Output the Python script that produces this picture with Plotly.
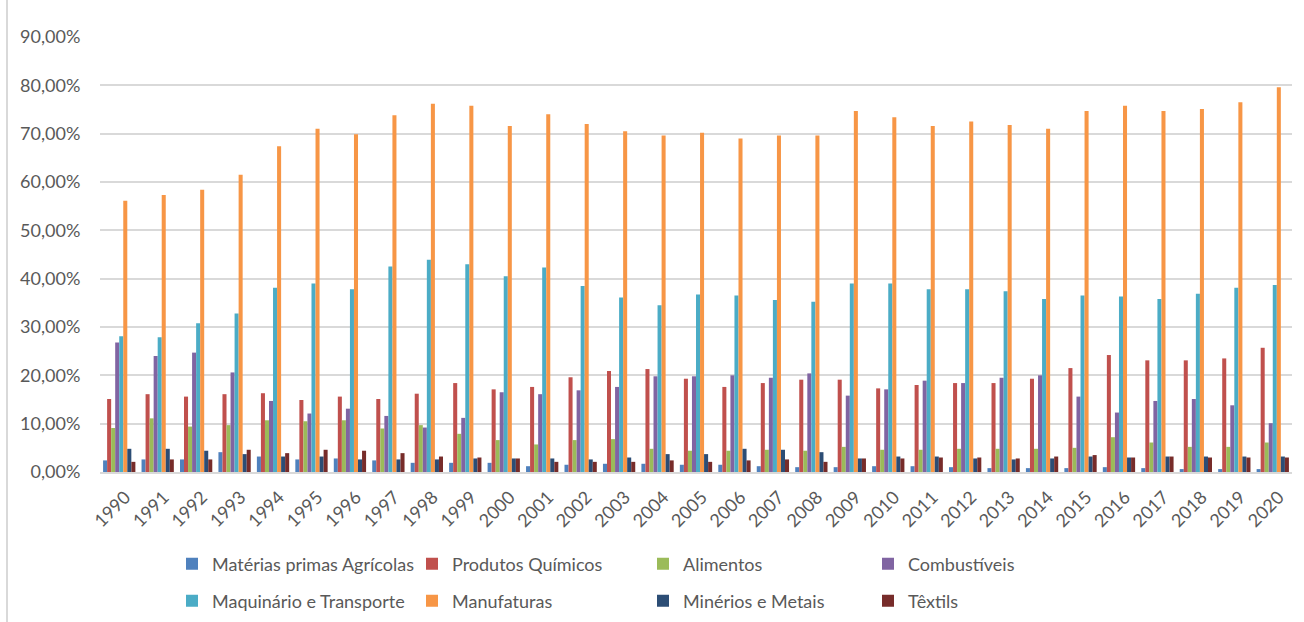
import plotly.graph_objects as go

# Participação por grupo de produtos, 1990-2020 (%)
anos = [str(a) for a in range(1990, 2021)]

materias_primas = [2.4, 2.6, 2.6, 4.1, 3.2, 2.6, 2.8, 2.4, 1.9, 1.9, 1.9, 1.2, 1.5, 1.7, 1.7, 1.5,
                   1.5, 1.2, 1.0, 1.0, 1.2, 1.2, 1.0, 0.8, 0.8, 0.8, 1.0, 0.8, 0.6, 0.6, 0.6]
quimicos = [15.1, 16.1, 15.6, 16.1, 16.3, 14.9, 15.6, 15.1, 16.2, 18.4, 17.1, 17.6, 19.6, 20.9, 21.3, 19.3,
            17.6, 18.4, 19.1, 19.1, 17.3, 18.0, 18.4, 18.4, 19.3, 21.5, 24.2, 23.1, 23.1, 23.5, 25.7]
alimentos = [9.1, 11.1, 9.4, 9.7, 10.7, 10.5, 10.7, 9.0, 9.7, 7.9, 6.6, 5.7, 6.6, 6.8, 4.8, 4.4,
             4.4, 4.6, 4.4, 5.2, 4.6, 4.6, 4.8, 4.8, 4.8, 5.0, 7.2, 6.1, 5.2, 5.2, 6.1]
combustiveis = [26.8, 24.0, 24.7, 20.6, 14.7, 12.1, 13.1, 11.6, 9.2, 11.2, 16.5, 16.1, 16.9, 17.6, 19.8, 19.8,
                20.0, 19.5, 20.4, 15.8, 17.1, 18.9, 18.4, 19.5, 20.0, 15.6, 12.3, 14.7, 15.1, 13.8, 10.1]
maquinario = [28.1, 27.9, 30.8, 32.8, 38.1, 39.0, 37.8, 42.5, 43.9, 43.0, 40.5, 42.3, 38.5, 36.1, 34.5, 36.7,
              36.5, 35.6, 35.2, 39.0, 39.0, 37.8, 37.8, 37.4, 35.8, 36.5, 36.3, 35.8, 36.9, 38.1, 38.7]
manufaturas = [56.1, 57.3, 58.4, 61.5, 67.4, 71.0, 69.9, 73.8, 76.2, 75.8, 71.6, 74.0, 72.0, 70.5, 69.6, 70.2,
               69.0, 69.6, 69.6, 74.7, 73.4, 71.6, 72.5, 71.8, 71.0, 74.7, 75.8, 74.7, 75.1, 76.5, 79.6]
minerios = [4.8, 4.8, 4.4, 3.7, 3.2, 3.2, 2.6, 2.6, 2.6, 2.8, 2.8, 2.8, 2.6, 3.0, 3.7, 3.7,
            4.8, 4.6, 4.1, 2.8, 3.2, 3.2, 2.8, 2.6, 2.8, 3.2, 3.0, 3.2, 3.2, 3.2, 3.2]
texteis = [2.1, 2.6, 2.6, 4.6, 3.9, 4.6, 4.4, 3.9, 3.2, 3.0, 2.8, 2.1, 2.1, 2.1, 2.4, 2.1,
           2.4, 2.6, 2.1, 2.8, 2.8, 3.0, 3.0, 2.8, 3.2, 3.5, 3.0, 3.2, 3.0, 3.0, 3.0]

series = [
    ("Matérias primas Agrícolas", materias_primas, "#4F81BD", "legend"),
    ("Produtos Químicos", quimicos, "#C0504D", "legend"),
    ("Alimentos", alimentos, "#9BBB59", "legend"),
    ("Combustíveis", combustiveis, "#8064A2", "legend"),
    ("Maquinário e Transporte", maquinario, "#4BACC6", "legend2"),
    ("Manufaturas", manufaturas, "#F79646", "legend2"),
    ("Minérios e Metais", minerios, "#2C4D75", "legend2"),
    ("Têxtils", texteis, "#772C2A", "legend2"),
]
# legend column widths (px), same for both legend rows
col_widths = [195, 186, 180, 120]

FONT = "Lato"
TXT = "#595959"
GRID = "#D9D9D9"

fig = go.Figure()
for i, (nome, valores, cor, leg) in enumerate(series):
    fig.add_trace(go.Bar(x=anos, y=valores, name=nome, marker=dict(color=cor, line=dict(width=0)),
                         legend=leg, legendwidth=col_widths[i % 4]))

W, H = 1304, 622
leg_common = dict(orientation="h", xref="container", yref="container", xanchor="left",
                  yanchor="middle", entrywidthmode="pixels",
                  font=dict(family=FONT, size=18, color=TXT), bgcolor="rgba(0,0,0,0)",
                  itemclick=False, itemdoubleclick=False, tracegroupgap=0)

fig.update_layout(
    width=W, height=H,
    margin=dict(l=100, r=12, t=37, b=150),
    paper_bgcolor="white", plot_bgcolor="white",
    barmode="group", bargap=0.16, bargroupgap=0,
    separators=",.",
    font=dict(family=FONT, size=18, color=TXT),
    legend=dict(x=172 / W, y=1 - 564 / H, **leg_common),
    legend2=dict(x=172 / W, y=1 - 601 / H, **leg_common),
    xaxis=dict(type="category", tickangle=-45, showgrid=False, showline=True,
               linecolor=GRID, linewidth=1.5, ticks="outside", ticklen=6,
               tickcolor="rgba(0,0,0,0)", ticklabelshift=6,
               tickfont=dict(family=FONT, size=18, color=TXT), fixedrange=True),
    yaxis=dict(range=[0, 90], dtick=10, tick0=0, tickformat=".2f", ticksuffix="%",
               showgrid=True, gridcolor=GRID, gridwidth=1.5, zeroline=False,
               ticks="outside", ticklen=15, tickcolor="rgba(0,0,0,0)",
               tickfont=dict(family=FONT, size=18, color=TXT), fixedrange=True),
    shapes=[dict(type="line", xref="paper", yref="paper",
                 x0=(7 - 100) / 1192, x1=(7 - 100) / 1192, y0=-0.35, y1=1.09,
                 line=dict(color=GRID, width=2))],
)

fig.write_html("out.html")
